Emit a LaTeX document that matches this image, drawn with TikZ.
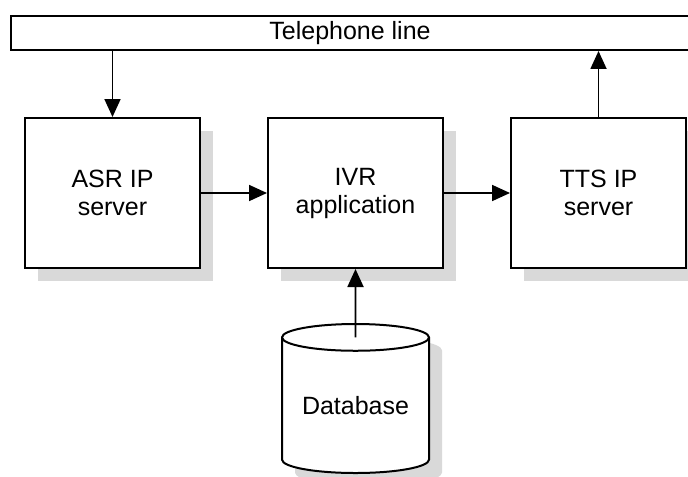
\documentclass[tikz,border=0pt]{standalone}
\usepackage{fontspec}
\setmainfont{Liberation Sans}
\usetikzlibrary{positioning,shapes.geometric,shadows,arrows.meta,calc}
\definecolor{shadegray}{RGB}{217,217,217}
\tikzset{
	boxshadow/.style={drop shadow={shadow xshift=6.5pt, shadow yshift=-6.5pt, fill=shadegray, opacity=1}},
	server/.style={draw, line width=1pt, fill=white, minimum width=87.5pt, minimum height=75pt, align=center, boxshadow},
	store/.style={draw, line width=1pt, fill=white, cylinder, shape border rotate=90, aspect=0.25, minimum width=73.5pt, minimum height=74.5pt, inner sep=0pt, boxshadow},
	flow/.style={-{Triangle[length=9pt,width=8pt]}, line width=0.9pt},
}
\begin{document}
\begin{tikzpicture}[x=0.5pt, y=-0.5pt, font=\fontsize{12.5}{14}\selectfont, line join=miter]
	\useasboundingbox (0,0) rectangle (688,476);
	\node[draw, line width=1pt, minimum width=339pt, minimum height=17pt, inner sep=0pt] (line) at (350,33) {Telephone line};
	\node[server] (asr) at (112.5,193) {ASR IP\\server};
	\node[server, right=33pt of asr] (ivr) {IVR\\application};
	\node[server, right=33pt of ivr] (tts) {TTS IP\\server};
	\node[store, below=27pt of ivr] (db) {Database};
	\coordinate (dbtop) at ($(db.before top)!0.5!(db.after top)$);
	\draw[flow] (line.south -| asr.north) -- (asr.north);
	\draw[flow] (tts.north) -- (tts.north |- line.south);
	\draw[flow] (asr) -- (ivr);
	\draw[flow] (ivr) -- (tts);
	\draw[flow] (dbtop) -- (ivr.south);
\end{tikzpicture}
\end{document}
